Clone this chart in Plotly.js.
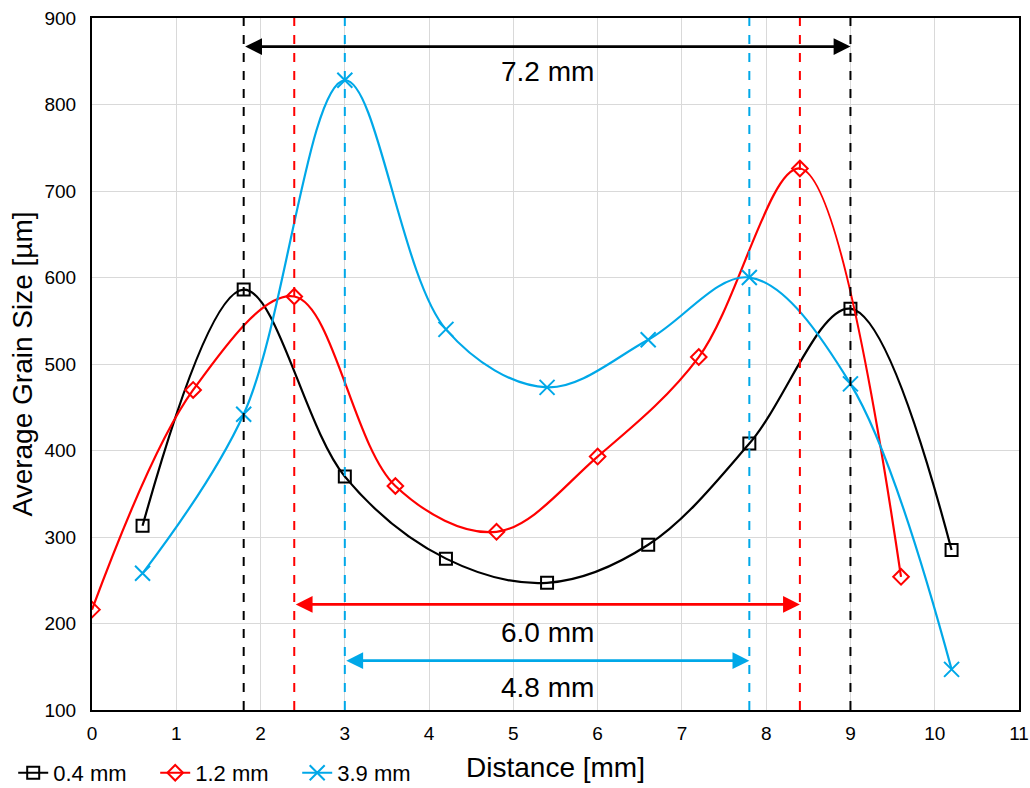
<!DOCTYPE html>
<html>
<head>
<meta charset="utf-8">
<script src="https://cdn.plot.ly/plotly-3.0.1.min.js"></script>
<style>html,body{margin:0;padding:0;background:#fff;}#chart{width:1030px;height:788px;}</style>
</head>
<body>
<div id="chart"></div>
<script>
const seriesNames = ["0.4 mm", "1.2 mm", "3.9 mm"];
const xA = [0.6, 1.8, 3.0, 4.2, 5.4, 6.6, 7.8, 9.0, 10.2];
const yA = [313, 586, 370, 275, 247, 291, 408, 564, 285];
const xB = [0, 1.2, 2.4, 3.6, 4.8, 6.0, 7.2, 8.4, 9.6];
const yB = [216, 470, 578, 359, 306, 393, 508, 726, 254];
const xC = [0.6, 1.8, 3.0, 4.2, 5.4, 6.6, 7.8, 9.0, 10.2];
const yC = [258, 442, 828, 540, 473, 528, 600, 477, 147];
const colors = ["#000000", "#ff0000", "#00a8e8"];
const widthBounds = [[1.8, 9.0], [2.4, 8.4], [3.0, 7.8]];
const widthLabels = ["7.2 mm", "6.0 mm", "4.8 mm"];
const arrowY = [867, 222, 157];
const labelY = [838, 190, 126];

const font = "Liberation Sans, Arial, sans-serif";
const symbols = ["square-open", "diamond-open", "x-thin-open"];
const xs = [xA, xB, xC], ys = [yA, yB, yC];
const traces = seriesNames.map((n, i) => ({
  x: xs[i], y: ys[i], name: n, type: "scatter", mode: "lines+markers",
  line: {shape: "spline", smoothing: 1, color: colors[i], width: 2.2},
  marker: {symbol: symbols[i], size: i === 2 ? 15 : 12, color: colors[i], line: {width: 2, color: colors[i]}}
}));

const shapes = [];
const annotations = [];
widthBounds.forEach((b, i) => {
  b.forEach(xv => shapes.push({type: "line", xref: "x", yref: "paper", x0: xv, x1: xv, y0: 0, y1: 1,
    line: {color: colors[i], width: 2, dash: "dash"}}));
  annotations.push({x: b[1], y: arrowY[i], ax: b[0], ay: arrowY[i], xref: "x", yref: "y", axref: "x", ayref: "y",
    showarrow: true, arrowside: "end+start", arrowhead: 2, arrowsize: 1.2, arrowwidth: 2.8, arrowcolor: colors[i], text: ""});
  annotations.push({x: (b[0] + b[1]) / 2, y: labelY[i], xref: "x", yref: "y", showarrow: false,
    text: widthLabels[i], font: {family: font, size: 28, color: "#000"}});
});

const layout = {
  width: 1030, height: 788,
  margin: {l: 92, r: 11, t: 18, b: 78, autoexpand: false},
  paper_bgcolor: "#fff", plot_bgcolor: "#fff",
  font: {family: font, color: "#000"},
  xaxis: {range: [0, 11], dtick: 1, tick0: 0, showgrid: true, gridcolor: "#d9d9d9", gridwidth: 1, automargin: false,
    showline: true, linecolor: "#000", linewidth: 2, mirror: true, zeroline: false, ticks: "", ticklen: 0,
    ticklabelstandoff: 5,
    tickfont: {size: 19, family: font}, title: {text: "Distance [mm]", font: {size: 28, family: font}, standoff: 15}},
  yaxis: {range: [100, 900], dtick: 100, showgrid: true, gridcolor: "#d9d9d9", gridwidth: 1, automargin: false,
    showline: true, linecolor: "#000", linewidth: 2, mirror: true, zeroline: false, ticks: "", ticklen: 0,
    ticklabelstandoff: 10,
    tickfont: {size: 19, family: font}, title: {text: "Average Grain Size [µm]", font: {size: 28, family: font}, standoff: 4}},
  showlegend: true,
  legend: {orientation: "h", x: -0.085, xanchor: "left", y: -0.091, yanchor: "middle",
    font: {size: 22, family: font}, bgcolor: "rgba(0,0,0,0)", itemwidth: 30, tracegroupgap: 0,
    entrywidth: 97, entrywidthmode: "pixels"},
  shapes: shapes, annotations: annotations
};
Plotly.newPlot("chart", traces, layout, {displayModeBar: false});
</script>
</body>
</html>
